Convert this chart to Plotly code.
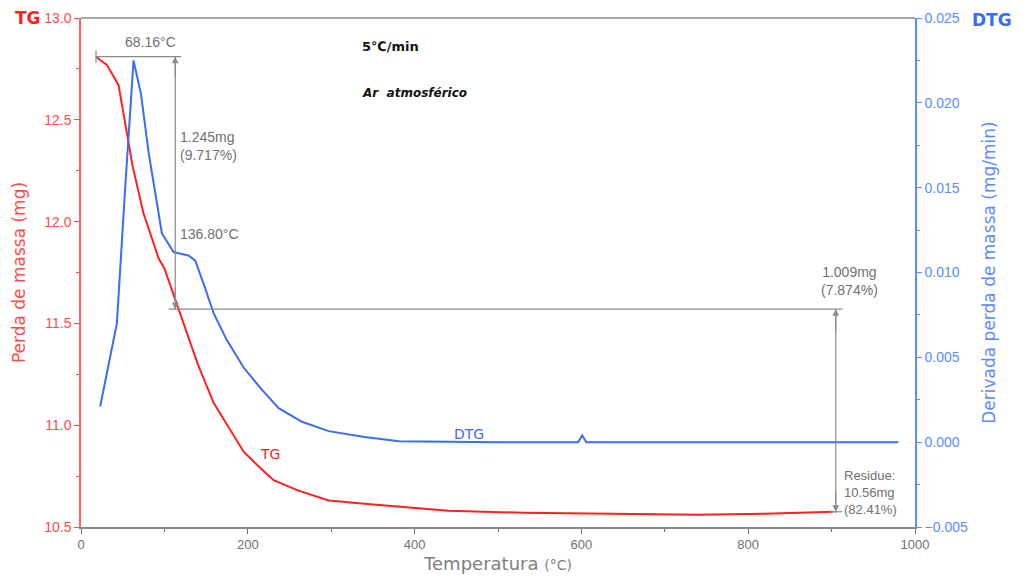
import plotly.graph_objects as go

# --- data ---
tg_temp = [18, 31, 45, 52, 62, 75, 93, 100, 117, 123, 140, 159, 180, 195, 215, 231, 260, 297, 350, 441, 530, 620, 740, 820, 902]
tg_mass = [12.81, 12.77, 12.67, 12.50, 12.27, 12.04, 11.82, 11.77, 11.57, 11.50, 11.30, 11.11, 10.97, 10.87, 10.79, 10.73, 10.68, 10.63, 10.61, 10.58, 10.57, 10.565, 10.56, 10.565, 10.575]

dtg_temp = [23, 36, 43, 53, 63, 72, 81, 97, 111, 129, 137, 148, 159, 175, 195, 215, 237, 265, 297, 340, 381, 500, 596, 601, 606, 700, 980]
dtg_val = [0.0021, 0.0053, 0.0070, 0.0150, 0.0225, 0.0205, 0.0171, 0.0123, 0.0112, 0.0110, 0.0107, 0.0092, 0.0076, 0.0060, 0.0044, 0.0032, 0.0020, 0.0012, 0.00065, 0.0003, 0.00006, 0.0, 0.0, 0.0004, 0.0, 0.0, 0.0]

x_ticks = [0, 200, 400, 600, 800, 1000]
tg_ticks = [10.5, 11.0, 11.5, 12.0, 12.5, 13.0]
dtg_ticks = [-0.005, 0.000, 0.005, 0.010, 0.015, 0.020, 0.025]

RED = "#ff2020"
RED_T = "#ff4a4a"
BLUE = "#3a6cf4"
BLUE_T = "#5a8cff"
GRAY = "#707070"
FONT = "Liberation Sans"

fig = go.Figure()
fig.add_trace(go.Scatter(x=tg_temp, y=tg_mass, mode="lines", line=dict(color=RED, width=2),
                         name="TG", showlegend=False))
fig.add_trace(go.Scatter(x=dtg_temp, y=dtg_val, mode="lines", line=dict(color=BLUE, width=2),
                         name="DTG", yaxis="y2", showlegend=False))

# measurement markup (gray lines with arrows)
step1_x = 113
step2_x = 905
line_style = dict(color="#8a8a8a", width=1.2)
fig.add_shape(type="line", x0=18, x1=120, y0=12.81, y1=12.81, line=line_style)
fig.add_shape(type="line", x0=18, x1=18, y0=12.78, y1=12.84, line=line_style)
fig.add_shape(type="line", x0=step1_x, x1=step1_x, y0=12.81, y1=11.57, line=line_style)
fig.add_shape(type="line", x0=105, x1=step2_x + 8, y0=11.57, y1=11.57, line=line_style)
fig.add_shape(type="line", x0=step2_x, x1=step2_x, y0=11.57, y1=10.57, line=line_style)
fig.add_shape(type="line", x0=step2_x - 6, x1=step2_x + 8, y0=10.575, y1=10.575, line=line_style)

def arrow(x, y_tip, y_tail):
    fig.add_annotation(x=x, y=y_tip, ax=x, ay=y_tail, xref="x", yref="y", axref="x", ayref="y",
                       showarrow=True, arrowhead=2, arrowsize=1.2, arrowwidth=1.1,
                       arrowcolor="#8a8a8a", text="")

arrow(step1_x, 12.81, 12.70)
arrow(step1_x, 11.57, 11.68)
arrow(step2_x, 11.57, 11.45)
arrow(step2_x, 10.575, 10.68)

def txt(x, y, s, color=GRAY, size=14, xanchor="left", family=FONT, xref="x", yref="y", align="left"):
    fig.add_annotation(x=x, y=y, text=s, showarrow=False, xref=xref, yref=yref,
                       xanchor=xanchor, yanchor="middle", align=align,
                       font=dict(color=color, size=size, family=family))

txt(83, 12.88, "68.16°C", xanchor="center")
txt(116, 12.37, "1.245mg<br>(9.717%)")
txt(116, 11.94, "136.80°C")
txt(922, 11.71, "1.009mg<br>(7.874%)", xanchor="center", align="center")
txt(912, 10.67, "Residue:<br>10.56mg<br>(82.41%)", xanchor="left", size=13)
txt(335, 12.86, "<b>5℃/min</b>", color="#111111", size=13, family="DejaVu Sans")
txt(335, 12.63, "<b><i>Ar  atmosférico</i></b>", color="#111111", size=12, family="DejaVu Sans")
txt(227, 10.86, "TG", color=RED, size=14, family="DejaVu Sans", xanchor="center")
txt(465, 0.0005, "DTG", color=BLUE, size=14, family="DejaVu Sans", xanchor="center", yref="y2")

# corner labels
fig.add_annotation(x=0, y=1.0, xref="paper", yref="paper", text="<b>TG</b>", showarrow=False,
                   xanchor="center", yanchor="middle", xshift=-53,
                   font=dict(color=RED, size=17, family="DejaVu Sans"))
fig.add_annotation(x=1.0, y=1.0, xref="paper", yref="paper", text="<b>DTG</b>", showarrow=False,
                   xanchor="center", yanchor="middle", xshift=77, yshift=-2,
                   font=dict(color=BLUE, size=17, family="DejaVu Sans"))

# page has an 8px body margin, so the figure is sized/offset to land the plot at the reference spot
fig.update_layout(
    width=1015, height=572,
    margin=dict(l=73, r=108, t=10, b=53, autoexpand=False),
    paper_bgcolor="white", plot_bgcolor="white",
    xaxis=dict(range=[0, 1000], tickvals=x_ticks, ticks="outside", ticklen=5, tickcolor=GRAY,
               minor=dict(dtick=100, ticks="outside", ticklen=3, tickcolor=GRAY), automargin=False,
               showline=True, linecolor="#888888", linewidth=1.5, mirror=False, showgrid=False,
               zeroline=False, tickfont=dict(color=GRAY, size=13, family=FONT),
               title=dict(text="Temperatura <span style='font-size:14px'>(°C)</span>", standoff=6,
                          font=dict(color="#808080", size=18, family="DejaVu Sans"))),
    yaxis=dict(range=[10.5, 13.0], tickvals=tg_ticks, tickformat=".1f", ticks="outside", ticklen=5,
               tickcolor=RED_T, minor=dict(dtick=0.25, ticks="outside", ticklen=3, tickcolor=RED_T),
               showline=True, linecolor="#ff6060", linewidth=1.5, showgrid=False, zeroline=False,
               automargin=False, tickfont=dict(color=RED_T, size=14, family=FONT),
               title=dict(text="Perda de massa (mg)", standoff=14,
                          font=dict(color=RED_T, size=17, family="DejaVu Sans"))),
    yaxis2=dict(range=[-0.005, 0.025], tickvals=dtg_ticks, tickformat=".3f", overlaying="y", side="right",
                ticks="outside", ticklen=5, tickcolor=BLUE_T, automargin=False,
                minor=dict(dtick=0.0025, ticks="outside", ticklen=3, tickcolor=BLUE_T),
                showline=True, linecolor=BLUE_T, linewidth=1.5, showgrid=False, zeroline=False,
                tickfont=dict(color=BLUE_T, size=14, family=FONT),
                title=dict(text="Derivada perda de massa (mg/min)", standoff=16,
                           font=dict(color=BLUE_T, size=17, family="DejaVu Sans"))),
)
# top frame line
fig.add_shape(type="line", xref="paper", yref="paper", x0=0, x1=1, y0=1, y1=1,
              line=dict(color="#888888", width=1.5))

fig.write_html("out.html")
